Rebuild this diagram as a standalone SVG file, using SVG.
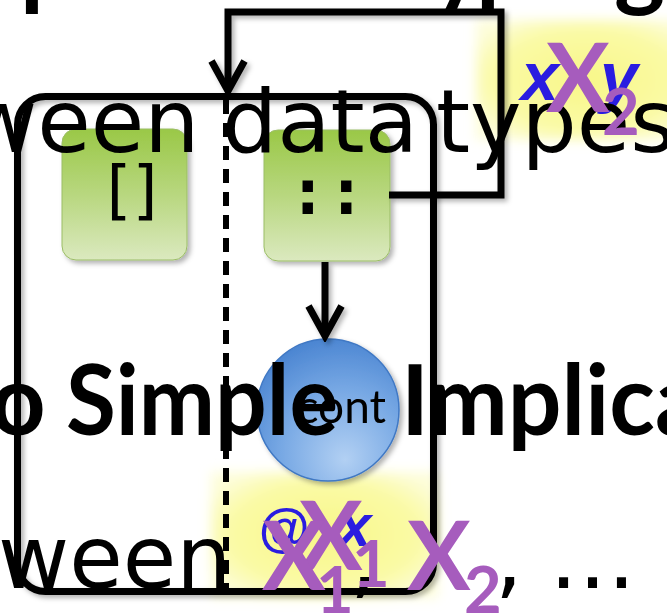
<svg xmlns="http://www.w3.org/2000/svg" width="667" height="615" viewBox="0 0 667 615">
  <defs>
    <style>
      .rule { fill: none; stroke: #000; stroke-width: 7; stroke-linejoin: miter; }
      .dash { fill: none; stroke: #000; stroke-width: 6; stroke-dasharray: 14 9; }
      .leaf { fill: url(#leaf); stroke: #9bbd66; stroke-width: 1; }
      .glyph { font-family: "DejaVu Sans Mono", monospace; font-size: 64px; fill: #000; text-anchor: middle; }
      .body { font-family: "DejaVu Sans", sans-serif; font-size: 87px; fill: #000; }
      .head { font-family: Lato, "Open Sans", sans-serif; font-weight: bold; font-size: 97px; fill: #000; }
      .var { font-family: "Liberation Sans", Arial, sans-serif; font-weight: bold; font-style: italic; fill: #2a1de0; }
      .big { font-family: Lato, "Open Sans", sans-serif; font-weight: bold; font-size: 95px; fill: #a65cbd; }
      .sub { font-family: Lato, "Open Sans", sans-serif; font-weight: bold; font-size: 65px; fill: #a65cbd; }
    </style>
    <linearGradient id="leaf" x1="0" y1="0" x2="0" y2="1">
      <stop offset="0" stop-color="#9ac847"/>
      <stop offset="0.5" stop-color="#b8d77f"/>
      <stop offset="1" stop-color="#dbe9bf"/>
    </linearGradient>
    <radialGradient id="orb" cx="0.6" cy="0.75" r="0.8" fx="0.62" fy="0.85">
      <stop offset="0" stop-color="#b2d0f3"/>
      <stop offset="0.55" stop-color="#77a8e4"/>
      <stop offset="1" stop-color="#4782d0"/>
    </radialGradient>
    <radialGradient id="glow" cx="0.5" cy="0.5" r="0.6">
      <stop offset="0" stop-color="#f8f788"/>
      <stop offset="0.7" stop-color="#fafaa6"/>
      <stop offset="1" stop-color="#fdfdda"/>
    </radialGradient>
    <filter id="haze" x="-20%" y="-20%" width="140%" height="140%">
      <feGaussianBlur stdDeviation="6"/>
    </filter>
    <filter id="shadow" x="-10%" y="-10%" width="130%" height="130%">
      <feDropShadow dx="3" dy="3" stdDeviation="2.5" flood-color="#000" flood-opacity="0.3"/>
    </filter>
    <marker id="chev" viewBox="-36 -22 42 44" markerWidth="42" markerHeight="44" refX="0" refY="0" orient="auto" markerUnits="userSpaceOnUse">
      <path d="M -30 -16.5 L 0 0 L -30 16.5" fill="none" stroke="#000" stroke-width="7" stroke-linejoin="miter"/>
    </marker>
  </defs>

  <rect width="667" height="615" fill="#fff"/>

  <!-- highlighted regions -->
  <rect x="476" y="20" width="222" height="120" fill="url(#glow)" filter="url(#haze)"/>
  <rect x="211" y="472" width="227" height="126" fill="url(#glow)" filter="url(#haze)"/>

  <!-- frame with the split between the two constructors -->
  <g id="frame" filter="url(#shadow)">
    <rect class="rule" x="17.5" y="96.5" width="416" height="495" rx="28"/>
  </g>
  <g id="split">
    <line class="dash" x1="226" y1="100" x2="226" y2="590"/>
  </g>

  <g id="nil" filter="url(#shadow)">
    <rect class="leaf" x="62" y="129" width="125" height="131" rx="14"/>
    <text class="glyph" x="128" y="212" letter-spacing="-8">[]</text>
  </g>

  <g id="cons" filter="url(#shadow)">
    <rect class="leaf" x="264" y="130" width="126" height="131" rx="14"/>
    <text class="glyph" x="327" y="214" font-weight="bold">::</text>
  </g>

  <g id="cont" filter="url(#shadow)">
    <circle cx="328" cy="410" r="71" fill="url(#orb)" stroke="#3f78c4" stroke-width="1.5"/>
    <text x="386" y="423" font-family="Lato, 'Open Sans', sans-serif" font-size="46" text-anchor="end" fill="#000">cont</text>
  </g>

  <g id="connectors" filter="url(#shadow)">
    <path class="rule" d="M 389 195 H 501 V 12 H 228 V 91" marker-end="url(#chev)"/>
    <path class="rule" d="M 325 262 V 336" marker-end="url(#chev)"/>
  </g>

  <!-- variable names -->
  <text class="var" x="521" y="100" font-size="68">x</text>
  <text class="var" x="600" y="100" font-size="68">y</text>
  <text class="var" x="258" y="546" font-size="52">@</text>
  <text class="var" x="338" y="546" font-size="60">x</text>

  <!-- slide text -->
  <text class="head" x="20" y="-2">p</text>
  <text class="head" x="432" y="-2">y</text>
  <text class="head" x="476" y="-2">p</text>
  <text class="head" x="614" y="-2">g</text>

  <text class="body" y="152"><tspan x="-34">ween</tspan><tspan x="222">data</tspan><tspan x="436">types</tspan></text>

  <text class="head" x="-10" y="435">o</text>
  <text class="head" x="66" y="435" textLength="272" lengthAdjust="spacingAndGlyphs">Simple</text>
  <text class="head" x="401" y="435" textLength="302" lengthAdjust="spacingAndGlyphs">Implica</text>

  <text class="body" y="588"><tspan x="-2">ween</tspan><tspan x="350">,</tspan><tspan x="495">,</tspan><tspan x="549">…</tspan></text>

  <text class="big" x="546" y="112">X</text>
  <text class="sub" x="602" y="135">2</text>
  <text class="big" x="299" y="570">X</text>
  <text class="sub" x="352" y="587">1</text>
  <text class="big" x="262" y="590">X</text>
  <text class="sub" x="316" y="613">1</text>
  <text class="big" x="407" y="590">X</text>
  <text class="sub" x="464" y="613">2</text>
</svg>
